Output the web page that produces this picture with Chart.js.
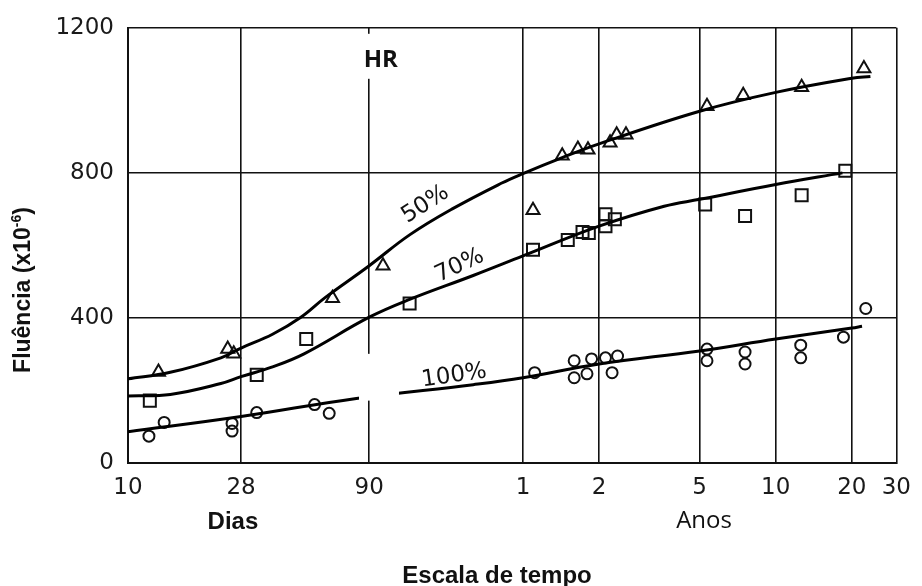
<!DOCTYPE html>
<html>
<head>
<meta charset="utf-8">
<script src="https://cdn.jsdelivr.net/npm/chart.js@4/dist/chart.umd.min.js"></script>
<style>
  html, body { margin: 0; padding: 0; background: #fff; }
  #wrap { width: 922px; height: 586px; position: relative; }
</style>
</head>
<body>
<div id="wrap"><canvas id="myChart"></canvas></div>
<script>
'use strict';

// time axis in days (log scale), tick labels switch from days to years after 90
const xTickDays = [10, 28, 90, 365, 730, 1825, 3650, 7300, 10950];
const xTickLabels = ['10', '28', '90', '1', '2', '5', '10', '20', '30'];
const yTicks = [0, 400, 800, 1200];

// measured points, HR 50% (triangles)
const tri50Days = [13.2, 24.8, 26.2, 64.4, 102, 400, 522, 602, 660, 807, 857, 933, 1951, 2714, 4621, 8147];
const tri50Vals = [251, 314, 301, 454, 544, 697, 847, 866, 864, 883, 905, 905, 984, 1014, 1036, 1088];

// HR 70% (squares)
const sq70Days = [12.2, 32.3, 50.7, 130, 400, 549, 628, 665, 774, 774, 843, 1919, 2760, 4621, 6877];
const sq70Vals = [172, 243, 342, 440, 588, 615, 637, 634, 686, 653, 672, 713, 681, 738, 806];

// HR 100% (circles)
const circ100Days = [12.1, 13.9, 25.8, 25.8, 32.3, 54.7, 62.5, 406, 582, 582, 654, 682, 774, 822, 864, 1951, 1951, 2760, 2760, 4582, 4582, 6761, 8285];
const circ100Vals = [74, 112, 109, 88, 139, 161, 137, 249, 282, 235, 246, 287, 290, 249, 295, 314, 282, 306, 273, 325, 290, 347, 426];

// fitted curves
const curve50Days = [10, 14.7, 23.3, 28, 37.3, 48.3, 60.2, 90, 130, 191, 301, 365, 522, 730, 1825, 3650, 7300, 8645];
const curve50Vals = [232, 250, 290, 317, 355, 402, 456, 544, 629, 700, 772, 798, 842, 880, 970, 1022, 1061, 1066];
const curve70Days = [10, 14.7, 23.3, 28, 37.3, 49.7, 90, 130, 232, 365, 730, 1321, 1825, 3650, 6700];
const curve70Vals = [185, 189, 219, 238, 265, 301, 402, 451, 517, 571, 653, 708, 727, 768, 800];
const curve100Days = [10, 28, 80, 232, 365, 730, 1825, 3650, 7300, 8010];
const curve100Vals = [86, 128, 178, 216, 235, 273, 309, 342, 372, 377];

function toXY(xs, ys) {
  return xs.map(function (x, i) { return { x: x, y: ys[i] }; });
}

function markerSet(xs, ys, style, r) {
  return {
    data: toXY(xs, ys),
    pointStyle: style,
    pointRadius: r,
    pointBorderWidth: 2,
    pointBorderColor: '#111',
    pointBackgroundColor: 'rgba(255,255,255,0)',
    showLine: false
  };
}

function curveSet(xs, ys) {
  return {
    data: toXY(xs, ys),
    showLine: true,
    borderColor: '#000',
    borderWidth: 3,
    pointRadius: 0,
    tension: 0.4,
    fill: false
  };
}

// extra texts and the white patches of the scanned figure
const notesPlugin = {
  id: 'notes',
  afterDatasetsDraw: function (chart) {
    const ctx = chart.ctx;
    const xs = chart.scales.x;
    const ys = chart.scales.y;
    const area = chart.chartArea;
    ctx.save();

    // erased spot next to the 100% label
    ctx.fillStyle = '#fff';
    const px1 = xs.getPixelForValue(82), px2 = xs.getPixelForValue(118);
    const py1 = ys.getPixelForValue(301), py2 = ys.getPixelForValue(172);
    ctx.fillRect(px1, py1, px2 - px1, py2 - py1);

    // HR label box
    const hx = xs.getPixelForValue(100);
    ctx.fillRect(hx - 27, area.top + 6, 54, 45);
    ctx.fillStyle = '#111';
    ctx.font = 'bold 24px "Open Sans"';
    ctx.textAlign = 'center';
    ctx.textBaseline = 'middle';
    ctx.fillText('HR', hx, ys.getPixelForValue(1112));

    // curve labels
    ctx.font = '23px "DejaVu Sans"';
    const labels = [
      { t: '50%', d: 150, v: 713, a: -33 },
      { t: '70%', d: 205, v: 544, a: -25 },
      { t: '100%', d: 195, v: 240, a: -8 }
    ];
    labels.forEach(function (l) {
      ctx.save();
      ctx.translate(xs.getPixelForValue(l.d), ys.getPixelForValue(l.v));
      ctx.rotate(l.a * Math.PI / 180);
      ctx.fillText(l.t, 0, 0);
      ctx.restore();
    });

    // Dias / Anos under the axis
    ctx.font = 'bold 24px "Liberation Sans"';
    ctx.fillText('Dias', xs.getPixelForValue(26), 522);
    ctx.font = '24px "Open Sans"';
    ctx.fillText('Anos', xs.getPixelForValue(1900), 521);

    // x title
    ctx.font = 'bold 24px "Liberation Sans"';
    ctx.fillText('Escala de tempo', 497, 576);

    // y title with superscript
    ctx.translate(22, 290);
    ctx.rotate(-Math.PI / 2);
    ctx.textAlign = 'left';
    ctx.textBaseline = 'alphabetic';
    const big = 'bold 23px "Liberation Sans"';
    const small = 'bold 14px "Liberation Sans"';
    ctx.font = big;
    const w1 = ctx.measureText('Fluência (x10').width;
    const w3 = ctx.measureText(')').width;
    ctx.font = small;
    const w2 = ctx.measureText('-6').width;
    let x0 = -(w1 + w2 + w3) / 2;
    ctx.font = big;
    ctx.fillText('Fluência (x10', x0, 8);
    ctx.font = small;
    ctx.fillText('-6', x0 + w1, -1);
    ctx.font = big;
    ctx.fillText(')', x0 + w1 + w2, 8);
    ctx.restore();
  }
};

Chart.defaults.font.family = '"DejaVu Sans"';
Chart.defaults.color = '#1a1a1a';

new Chart(document.getElementById('myChart'), {
  type: 'scatter',
  data: {
    datasets: [
      curveSet(curve50Days, curve50Vals),
      curveSet(curve70Days, curve70Vals),
      curveSet(curve100Days, curve100Vals),
      markerSet(tri50Days, tri50Vals, 'triangle', 7.5),
      markerSet(sq70Days, sq70Vals, 'rect', 8.5),
      markerSet(circ100Days, circ100Vals, 'circle', 5.5)
    ]
  },
  options: {
    responsive: true,
    maintainAspectRatio: false,
    animation: false,
    layout: { padding: { top: 24, right: 25, left: 0, bottom: 0 } },
    plugins: { legend: { display: false }, tooltip: { enabled: false } },
    scales: {
      x: {
        type: 'logarithmic',
        min: 10,
        max: 10950,
        afterBuildTicks: function (scale) {
          scale.ticks = xTickDays.map(function (v) { return { value: v }; });
        },
        afterFit: function (scale) { scale.height = 123; },
        ticks: {
          autoSkip: false,
          maxRotation: 0,
          padding: 11,
          font: { size: 23 },
          callback: function (value, index) { return xTickLabels[index]; }
        },
        grid: { color: '#111', lineWidth: 1.6, drawTicks: false },
        border: { color: '#111', width: 2 }
      },
      y: {
        min: 0,
        max: 1200,
        afterBuildTicks: function (scale) {
          scale.ticks = yTicks.map(function (v) { return { value: v }; });
        },
        afterFit: function (scale) { scale.width = 128; },
        ticks: {
          padding: 14,
          font: { size: 23 },
          callback: function (value) { return String(value); }
        },
        grid: { color: '#111', lineWidth: 1.6, drawTicks: false },
        border: { color: '#111', width: 2 }
      }
    }
  },
  plugins: [notesPlugin]
});
</script>
</body>
</html>
